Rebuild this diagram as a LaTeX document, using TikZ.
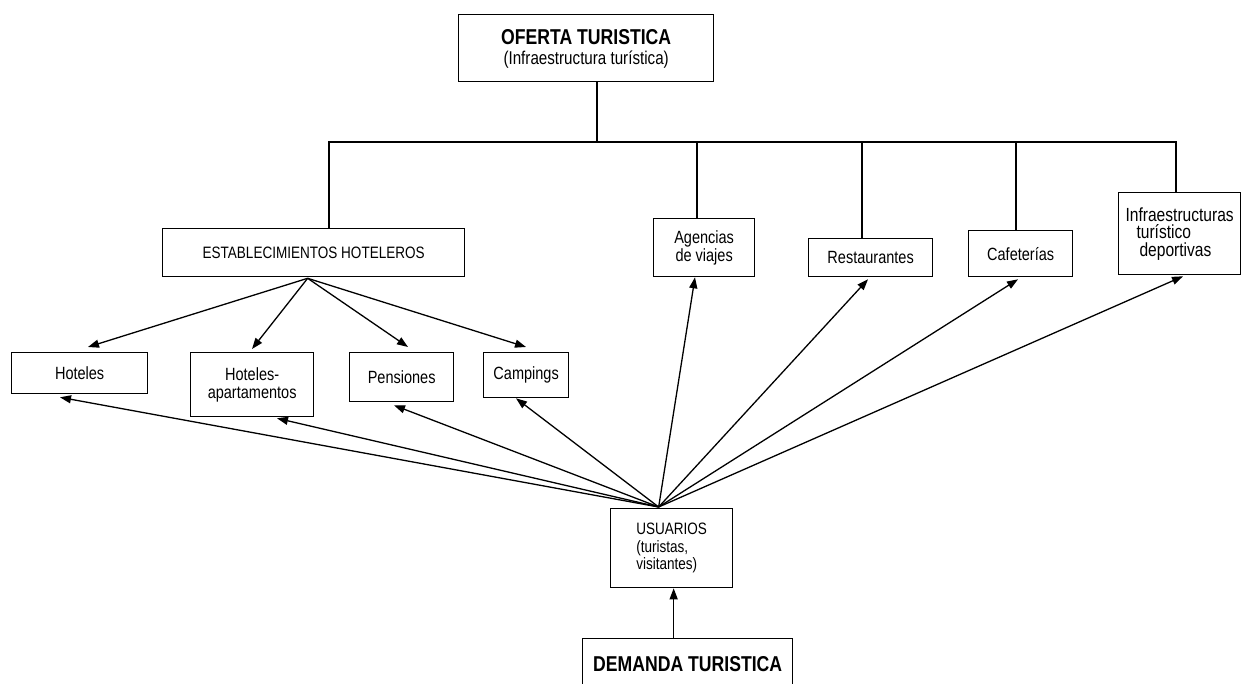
\documentclass[tikz,border=0pt]{standalone}
\usepackage{fontspec}
\setmainfont[FakeStretch=0.82]{Liberation Sans}
\usetikzlibrary{arrows.meta,calc}
\begin{document}
\begin{tikzpicture}[x=1pt,y=-1pt,
  box/.style={draw,line width=1.3pt,inner sep=0pt,anchor=north west,align=center,
    font=\fontsize{17.7}{18}\selectfont},
  small/.style={font=\fontsize{16.5}{17.5}\selectfont},
  bold/.style={font=\bfseries\fontsize{21.5}{22}\selectfont},
  link/.style={line width=1.3pt},
  arr/.style={line width=1.3pt,-{Triangle[length=11pt,width=8pt]}}]
\useasboundingbox (0,0) rectangle (1242,684);
\clip (0,0) rectangle (1242,684);
% boxes
\node[box,minimum width=255pt,minimum height=67pt] (oferta) at (458,14)
  {\raisebox{0pt}[16pt][0pt]{\bfseries\fontsize{21.5}{22}\selectfont OFERTA TURISTICA}\\[2pt]{\fontsize{18.5}{18.5}\selectfont (Infraestructura turística)}};
\node[box,small,minimum width=302pt,minimum height=48pt] (estab) at (162,228) {ESTABLECIMIENTOS HOTELEROS};
\node[box,minimum width=101pt,minimum height=58pt] (agencias) at (653,218) {Agencias\\de viajes};
\node[box,minimum width=124pt,minimum height=38pt] (rest) at (808,238) {Restaurantes};
\node[box,minimum width=104pt,minimum height=46pt] (cafe) at (968,230) {Cafeterías};
\node[box,minimum width=122pt,minimum height=82pt,align=left,font=\fontsize{19}{17.5}\selectfont] (infra) at (1118,192)
  {Infraestructuras\\\hspace*{11pt}turístico\\\hspace*{14pt}deportivas};
\node[box,minimum width=136pt,minimum height=41pt] (hoteles) at (11,352) {Hoteles};
\node[box,minimum width=123pt,minimum height=64pt] (hotapt) at (190,352) {Hoteles-\\apartamentos};
\node[box,minimum width=104pt,minimum height=49pt] (pens) at (349,352) {Pensiones};
\node[box,minimum width=85pt,minimum height=45pt] (camp) at (483,352) {Campings};
\node[box,small,minimum width=122pt,minimum height=79pt,align=left] (usuarios) at (610,508)
  {USUARIOS\\(turistas,\\visitantes)};
\node[box,minimum width=210pt,minimum height=50pt,bold] (demanda) at (582,638) {DEMANDA TURISTICA};
% tree
\coordinate (bus) at (597,142);
\draw[link] (oferta.south -| bus) -- (bus);
\draw[link] (bus) -| ($(estab.north west)+(167,0)$);
\draw[link] (bus) -| ($(infra.north west)+(58,0)$);
\draw[link] ($(agencias.north west)+(44,0)$) -- ++(0,-76);
\draw[link] ($(rest.north west)+(54,0)$) -- ++(0,-96);
\draw[link] ($(cafe.north west)+(48,0)$) -- ++(0,-88);
% arrows from establecimientos
\coordinate (es) at ($(estab.south)+(-6,1)$);
\draw[arr] (es) -- ($(hoteles.north west)+(77,-5)$);
\draw[arr] (es) -- ($(hotapt.north west)+(62,-3)$);
\draw[arr] (es) -- ($(pens.north west)+(59,-5)$);
\draw[arr] (es) -- ($(camp.north west)+(43,-5)$);
% arrows from usuarios
\coordinate (us) at ($(usuarios.north)+(-13,-1)$);
\draw[arr] (us) -- ($(hoteles.south west)+(49,3)$);
\draw[arr] (us) -- ($(hotapt.south west)+(87,1)$);
\draw[arr] (us) -- ($(pens.south west)+(45,3)$);
\draw[arr] (us) -- ($(camp.south west)+(33,0)$);
\draw[arr] (us) -- ($(agencias.south west)+(42,0)$);
\draw[arr] (us) -- ($(rest.south west)+(60,2)$);
\draw[arr] (us) -- ($(cafe.south west)+(50,2)$);
\draw[arr] (us) -- ($(infra.south west)+(65,1)$);
% demanda to usuarios
\draw[arr] ($(demanda.north)+(-14,0)$) -- ($(usuarios.south)+(2,0)$);
\end{tikzpicture}
\end{document}
